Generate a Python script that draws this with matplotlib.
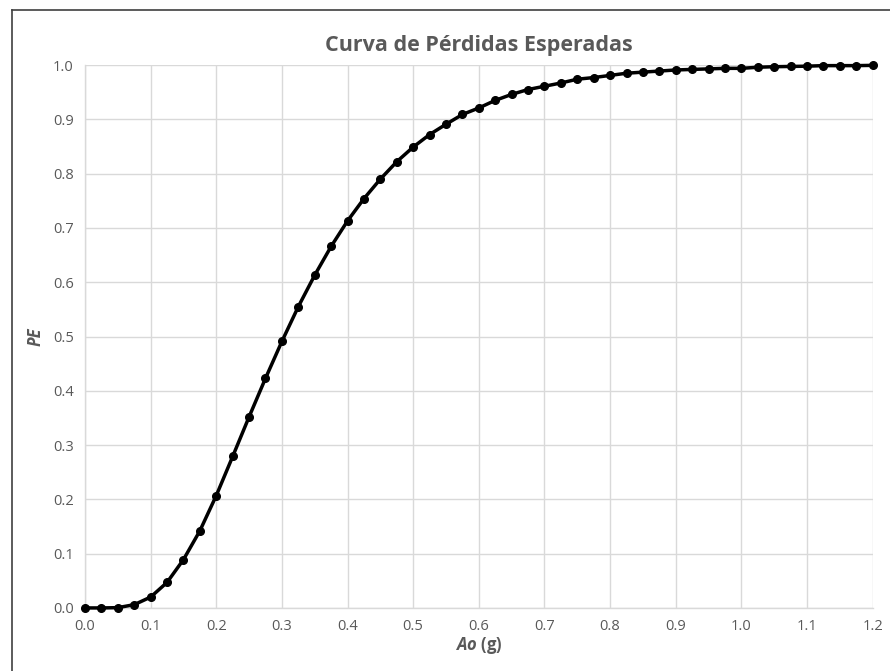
import matplotlib.pyplot as plt
import matplotlib
import numpy as np

matplotlib.rcParams['font.family'] = ['Open Sans', 'DejaVu Sans']
matplotlib.rcParams['mathtext.fontset'] = 'custom'
matplotlib.rcParams['mathtext.it'] = 'Open Sans:italic:bold'
matplotlib.rcParams['mathtext.rm'] = 'Open Sans:bold'

# Ao (g) cada 0.025
ao = [0.0, 0.025, 0.05, 0.075, 0.1, 0.125, 0.15, 0.175, 0.2, 0.225,
      0.25, 0.275, 0.3, 0.325, 0.35, 0.375, 0.4, 0.425, 0.45, 0.475,
      0.5, 0.525, 0.55, 0.575, 0.6, 0.625, 0.65, 0.675, 0.7, 0.725,
      0.75, 0.775, 0.8, 0.825, 0.85, 0.875, 0.9, 0.925, 0.95, 0.975,
      1.0, 1.025, 1.05, 1.075, 1.1, 1.125, 1.15, 1.175, 1.2]
pe = [0.0, 0.0, 0.0005, 0.006, 0.020, 0.047, 0.089, 0.142, 0.207, 0.279,
      0.352, 0.423, 0.491, 0.555, 0.613, 0.666, 0.713, 0.754, 0.790, 0.822,
      0.849, 0.872, 0.891, 0.909, 0.921, 0.935, 0.946, 0.955, 0.961, 0.967,
      0.974, 0.977, 0.981, 0.985, 0.987, 0.989, 0.991, 0.992, 0.993, 0.994,
      0.994, 0.996, 0.997, 0.9975, 0.998, 0.999, 0.999, 0.999, 0.9995]

x_ticks = np.arange(0, 1.21, 0.1)
y_ticks = np.arange(0, 1.01, 0.1)

fig = plt.figure(figsize=(8.9, 6.71), dpi=100)
ax = fig.add_axes([0.0955, 0.094, 0.885, 0.809])

ax.plot(ao, pe, color='black', linewidth=2.5, marker='o', markersize=5.5,
        zorder=3, clip_on=False)

ax.set_xlim(0, 1.2)
ax.set_ylim(0, 1.0)
ax.set_xticks(x_ticks)
ax.set_yticks(y_ticks)
ax.set_xticklabels([f'{v:.1f}' for v in x_ticks])
ax.set_yticklabels([f'{v:.1f}' for v in y_ticks])
ax.tick_params(length=0, colors='#595959', labelsize=10.5, pad=8)

ax.grid(True, color='#d9d9d9', linewidth=1)
ax.set_axisbelow(True)
for s in ['top', 'right']:
    ax.spines[s].set_visible(False)
for s in ['left', 'bottom']:
    ax.spines[s].set_color('#d9d9d9')
    ax.spines[s].set_linewidth(1)

ax.set_title('Curva de Pérdidas Esperadas', fontsize=15.5, fontweight='bold',
             color='#595959', pad=10)
ax.set_xlabel(r'$\mathit{Ao}$ (g)', fontsize=12, fontweight='bold',
              color='#595959', labelpad=1)
ax.set_ylabel('PE', fontsize=12, fontweight='bold', style='italic',
              color='#595959', labelpad=6)

# marco de la hoja (izquierda y arriba)
fig.add_artist(plt.Line2D([0.0135, 0.0135], [0, 0.985], color='#404040', linewidth=1.2))
fig.add_artist(plt.Line2D([0.0135, 1.0], [0.985, 0.985], color='#404040', linewidth=1.2))

plt.savefig('out.png', dpi=100)
